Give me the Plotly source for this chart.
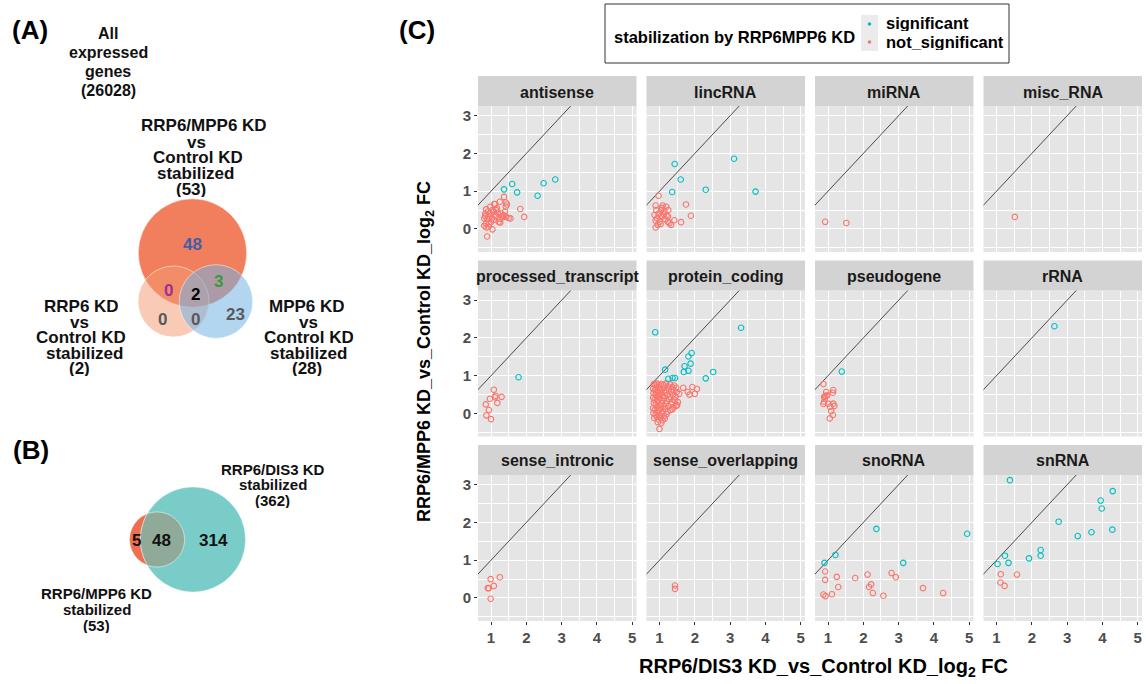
import numpy as np
import plotly.graph_objects as go

W, H = 1146, 684
FONT = "Liberation Sans, Arial, sans-serif"

# ---------------- data ----------------
facet_names = ["antisense", "lincRNA", "miRNA", "misc_RNA",
               "processed_transcript", "protein_coding", "pseudogene", "rRNA",
               "sense_intronic", "sense_overlapping", "snoRNA", "snRNA"]
x_ticks = [1, 2, 3, 4, 5]
y_ticks = [0, 1, 2, 3]
legend_title = "stabilization by RRP6MPP6 KD"
legend_labels = ["significant", "not_significant"]

antisense_sig_x = [1.37, 1.60, 1.74, 2.32, 2.49, 2.82]
antisense_sig_y = [1.05, 1.19, 0.97, 0.88, 1.21, 1.31]
antisense_ns_x = [0.86, 0.98, 1.09, 1.12, 1.25, 1.37, 1.42, 1.45, 1.42, 1.83, 1.94, 1.55, 1.43, 1.36, 1.31, 1.25,
                  1.22, 1.26, 1.08, 1.03, 0.93, 0.84, 0.81, 0.89, 0.86, 0.81, 0.87, 0.93, 1.04, 0.89, 0.98, 1.08,
                  1.15, 1.19, 1.29, 1.13, 1.00, 0.94, 1.17, 1.04, 0.84, 0.91, 1.10, 1.40, 1.34, 1.50]
antisense_ns_y = [0.52, 0.59, 0.66, 0.66, 0.72, 0.85, 0.70, 0.65, 0.59, 0.53, 0.32, 0.28, 0.32, 0.36, 0.33, 0.27,
                  0.19, 0.17, 0.24, 0.28, 0.33, 0.34, 0.28, 0.26, 0.15, 0.08, 0.04, 0.06, -0.01, -0.20, 0.41, 0.46,
                  0.50, 0.43, 0.41, 0.33, 0.19, 0.13, 0.55, 0.50, 0.41, 0.46, 0.37, 0.46, 0.31, 0.29]

lincRNA_sig_x = [1.43, 3.11, 1.60, 1.36, 2.31, 3.72]
lincRNA_sig_y = [1.72, 1.86, 1.31, 0.98, 1.04, 0.99]
lincRNA_ns_x = [0.97, 1.75, 1.89, 1.61, 1.42, 0.89, 1.09, 1.19, 1.05, 0.91, 1.14, 0.97, 1.24, 1.09, 0.93,
                0.89, 1.00, 1.16, 1.28, 1.33, 0.95, 0.89, 1.03, 1.24, 1.12, 1.20, 1.04, 0.86, 1.07, 1.25]
lincRNA_ns_y = [0.88, 0.65, 0.35, 0.18, 0.23, 0.62, 0.62, 0.59, 0.50, 0.50, 0.46, 0.41, 0.33, 0.33, 0.28,
                0.22, 0.19, 0.26, 0.15, 0.11, 0.11, 0.04, 0.13, 0.19, 0.39, 0.35, 0.34, 0.37, 0.56, 0.50]

miRNA_sig_x = []
miRNA_sig_y = []
miRNA_ns_x = [0.92, 1.52]
miRNA_ns_y = [0.19, 0.16]

misc_RNA_sig_x = []
misc_RNA_sig_y = []
misc_RNA_ns_x = [1.52]
misc_RNA_ns_y = [0.32]

processed_transcript_sig_x = [1.78]
processed_transcript_sig_y = [0.96]
processed_transcript_ns_x = [1.08, 0.97, 1.13, 1.11, 1.30, 1.18, 0.85, 0.94, 0.87, 1.00]
processed_transcript_ns_y = [0.63, 0.39, 0.47, 0.43, 0.44, 0.28, 0.24, 0.09, -0.05, -0.15]

protein_coding_sig_x = [0.88, 3.31, 1.91, 1.82, 1.88, 1.71, 1.69, 1.82, 1.16, 1.37, 1.44, 1.25, 2.31, 2.52]
protein_coding_sig_y = [2.15, 2.27, 1.60, 1.51, 1.32, 1.25, 1.10, 1.13, 1.16, 0.94, 0.94, 0.92, 0.93, 1.10]
protein_coding_ns_x = [1.00, 1.67, 1.93, 2.06, 1.80, 1.85, 2.00, 1.56, 1.36, 1.47,
                       0.84, 0.88, 0.93, 0.98, 1.05, 1.12, 1.18, 1.24, 1.30, 1.36, 1.42, 1.47,
                       0.82, 0.87, 0.91, 0.96, 1.01, 1.07, 1.13, 1.19, 1.26, 1.33, 1.40, 1.49,
                       0.83, 0.89, 0.94, 0.99, 1.04, 1.10, 1.16, 1.22, 1.29, 1.38, 1.45,
                       0.82, 0.86, 0.92, 0.97, 1.02, 1.08, 1.14, 1.20, 1.27, 1.35, 1.43, 1.52,
                       0.84, 0.90, 0.95, 1.00, 1.06, 1.12, 1.18, 1.25, 1.33, 1.40, 1.50,
                       0.82, 0.87, 0.93, 0.98, 1.04, 1.10, 1.16, 1.23, 1.31,
                       0.83, 0.89, 0.94, 1.00, 1.06, 1.13, 1.20,
                       0.85, 0.92, 0.97, 1.03, 1.09, 1.15, 0.95, 1.05]
protein_coding_ns_y = [-0.41, 0.68, 0.70, 0.65, 0.57, 0.50, 0.52, 0.52, 0.11, 0.20,
                       0.78, 0.74, 0.79, 0.76, 0.78, 0.75, 0.79, 0.72, 0.77, 0.70, 0.74, 0.68,
                       0.66, 0.62, 0.68, 0.60, 0.66, 0.63, 0.68, 0.61, 0.64, 0.58, 0.62, 0.57,
                       0.54, 0.50, 0.56, 0.48, 0.53, 0.47, 0.55, 0.49, 0.45, 0.50, 0.44,
                       0.42, 0.37, 0.44, 0.35, 0.40, 0.34, 0.41, 0.33, 0.38, 0.30, 0.36, 0.30,
                       0.28, 0.24, 0.30, 0.22, 0.27, 0.21, 0.26, 0.19, 0.24, 0.16, 0.22,
                       0.14, 0.10, 0.16, 0.08, 0.13, 0.06, 0.12, 0.05, 0.09,
                       0.01, -0.03, 0.03, -0.05, 0.00, -0.07, -0.02,
                       -0.12, -0.09, -0.16, -0.11, -0.18, -0.13, -0.23, -0.26]

pseudogene_sig_x = [1.39]
pseudogene_sig_y = [1.11]
pseudogene_ns_x = [0.87, 0.95, 1.15, 1.14, 0.89, 0.93, 0.98, 0.89, 0.87, 1.01, 1.15, 1.18, 1.06, 1.09, 1.14, 1.05, 0.91]
pseudogene_ns_y = [0.78, 0.57, 0.62, 0.55, 0.44, 0.47, 0.48, 0.31, 0.25, 0.26, 0.26, 0.20, 0.18, 0.06, -0.04, -0.13, 0.40]

rRNA_sig_x = [2.64]
rRNA_sig_y = [2.31]
rRNA_ns_x = []
rRNA_ns_y = []

sense_intronic_sig_x = []
sense_intronic_sig_y = []
sense_intronic_ns_x = [0.99, 1.25, 1.08, 0.91, 0.94, 0.99]
sense_intronic_ns_y = [0.50, 0.55, 0.32, 0.26, 0.26, -0.02]

sense_overlapping_sig_x = []
sense_overlapping_sig_y = []
sense_overlapping_ns_x = [1.44, 1.44]
sense_overlapping_ns_y = [0.33, 0.24]

snoRNA_sig_x = [0.90, 1.21, 2.37, 3.13, 4.94]
snoRNA_sig_y = [0.93, 1.14, 1.83, 0.93, 1.70]
snoRNA_ns_x = [0.92, 0.92, 1.25, 1.29, 0.87, 0.93, 1.11, 1.77, 2.12, 2.22, 2.16, 2.27, 2.57, 2.80, 2.92, 3.69, 4.26]
snoRNA_ns_y = [0.70, 0.48, 0.56, 0.29, 0.09, 0.05, 0.10, 0.53, 0.62, 0.36, 0.29, 0.13, 0.06, 0.66, 0.55, 0.26, 0.13]

snRNA_sig_x = [1.38, 4.29, 3.95, 3.98, 2.76, 3.69, 3.30, 4.28, 2.25, 2.25, 1.92, 1.24, 1.34, 1.03]
snRNA_sig_y = [3.12, 2.83, 2.58, 2.37, 2.02, 1.74, 1.64, 1.81, 1.27, 1.12, 1.05, 1.12, 0.93, 0.90]
snRNA_ns_x = [1.12, 1.58, 1.11, 1.23]
snRNA_ns_y = [0.63, 0.62, 0.41, 0.32]

facet_data = {
    "antisense": (antisense_sig_x, antisense_sig_y, antisense_ns_x, antisense_ns_y),
    "lincRNA": (lincRNA_sig_x, lincRNA_sig_y, lincRNA_ns_x, lincRNA_ns_y),
    "miRNA": (miRNA_sig_x, miRNA_sig_y, miRNA_ns_x, miRNA_ns_y),
    "misc_RNA": (misc_RNA_sig_x, misc_RNA_sig_y, misc_RNA_ns_x, misc_RNA_ns_y),
    "processed_transcript": (processed_transcript_sig_x, processed_transcript_sig_y,
                             processed_transcript_ns_x, processed_transcript_ns_y),
    "protein_coding": (protein_coding_sig_x, protein_coding_sig_y, protein_coding_ns_x, protein_coding_ns_y),
    "pseudogene": (pseudogene_sig_x, pseudogene_sig_y, pseudogene_ns_x, pseudogene_ns_y),
    "rRNA": (rRNA_sig_x, rRNA_sig_y, rRNA_ns_x, rRNA_ns_y),
    "sense_intronic": (sense_intronic_sig_x, sense_intronic_sig_y, sense_intronic_ns_x, sense_intronic_ns_y),
    "sense_overlapping": (sense_overlapping_sig_x, sense_overlapping_sig_y,
                          sense_overlapping_ns_x, sense_overlapping_ns_y),
    "snoRNA": (snoRNA_sig_x, snoRNA_sig_y, snoRNA_ns_x, snoRNA_ns_y),
    "snRNA": (snRNA_sig_x, snRNA_sig_y, snRNA_ns_x, snRNA_ns_y),
}

# Venn counts
venn_a_all = 26028
venn_a_totals = [53, 2, 28]              # RRP6/MPP6, RRP6, MPP6
venn_a_regions = [48, 0, 2, 3, 0, 0, 23]  # only A, A&B, A&B&C, A&C, B only, B&C, C only
venn_b_totals = [53, 362]                # RRP6/MPP6, RRP6/DIS3
venn_b_regions = [5, 48, 314]

# ---------------- helpers ----------------
def PX(x):
    return x / W


def PY(y):
    return 1 - y / H


SIG_COL = "#00BFC4"
NS_COL = "#F8766D"

fig = go.Figure()
shapes = []
annots = []


def txt(x, y, s, size, color="#1A1A1A", bold=True, xanchor="center", angle=0, h=None):
    a = dict(x=PX(x), y=PY(y), xref="paper", yref="paper", text=("<b>%s</b>" % s) if bold else s,
             showarrow=False, xanchor=xanchor, yanchor="middle", textangle=angle,
             font=dict(family=FONT, size=size, color=color), borderpad=0)
    if h is not None:
        a["height"] = h
    annots.append(a)


def circ(cx, cy, r, fill, line="rgba(255,255,255,0.5)", lw=1):
    shapes.append(dict(type="circle", xref="paper", yref="paper",
                       x0=PX(cx - r), x1=PX(cx + r), y0=PY(cy + r), y1=PY(cy - r),
                       fillcolor=fill, line=dict(color=line, width=lw), layer="above"))


# ---------------- facets ----------------
col_left = [478, 646.5, 815, 983.5]
panel_w = 158.5
strip_top = [76, 260.5, 445]
strip_h = 30
panel_h = 146
XR = [0.632, 5.12]
YR = [-0.61, 3.257]

layout_axes = {}
for i, name in enumerate(facet_names):
    r, c = divmod(i, 4)
    n = i + 1
    xs = "x" if n == 1 else "x%d" % n
    ys = "y" if n == 1 else "y%d" % n
    x0 = col_left[c]
    x1 = x0 + panel_w
    pt = strip_top[r] + strip_h
    pb = pt + panel_h
    sx, sy, nx, ny = facet_data[name]
    fig.add_trace(go.Scatter(x=[0, 6], y=[0, 6], mode="lines", xaxis=xs, yaxis=ys,
                             line=dict(color="#3a3a3a", width=0.9), hoverinfo="skip", showlegend=False))
    fig.add_trace(go.Scatter(x=nx, y=ny, mode="markers", xaxis=xs, yaxis=ys, name=legend_labels[1],
                             marker=dict(symbol="circle-open", size=5.5, color=NS_COL, line=dict(width=1.1)),
                             showlegend=False))
    fig.add_trace(go.Scatter(x=sx, y=sy, mode="markers", xaxis=xs, yaxis=ys, name=legend_labels[0],
                             marker=dict(symbol="circle-open", size=5.5, color=SIG_COL, line=dict(width=1.1)),
                             showlegend=False))
    showx = (r == 2)
    showy = (c == 0)
    layout_axes["xaxis" if n == 1 else "xaxis%d" % n] = dict(
        domain=[PX(x0), PX(x1)], range=XR, anchor=ys, tickvals=x_ticks,
        showticklabels=showx, ticks="outside" if showx else "", ticklen=3, tickwidth=1, tickcolor="#333333",
        tickfont=dict(family=FONT, size=15, color="#4D4D4D", weight="bold"),
        showgrid=True, gridcolor="white", gridwidth=1.2, zeroline=False, showline=False,
        minor=dict(dtick=0.5, tick0=0, showgrid=True, gridcolor="white", gridwidth=0.6))
    layout_axes["yaxis" if n == 1 else "yaxis%d" % n] = dict(
        domain=[PY(pb), PY(pt)], range=YR, anchor=xs, tickvals=y_ticks,
        showticklabels=showy, ticks="outside" if showy else "", ticklen=3, tickwidth=1, tickcolor="#333333",
        tickfont=dict(family=FONT, size=15, color="#4D4D4D", weight="bold"),
        showgrid=True, gridcolor="white", gridwidth=1.2, zeroline=False, showline=False,
        minor=dict(dtick=0.5, tick0=0, showgrid=True, gridcolor="white", gridwidth=0.6))
    # strip
    shapes.append(dict(type="rect", xref="paper", yref="paper", x0=PX(x0), x1=PX(x1),
                       y0=PY(strip_top[r] + strip_h), y1=PY(strip_top[r]),
                       fillcolor="#D3D3D3", line=dict(width=0), layer="below"))
    txt((x0 + x1) / 2, strip_top[r] + strip_h / 2 + 1, name, 16, "#1A1A1A")

# axis titles
txt(425, 352, "RRP6/MPP6 KD_vs_Control KD_log<sub>2</sub> FC", 18, "#000000", angle=-90)
txt(823, 667, "RRP6/DIS3 KD_vs_Control KD_log<sub>2</sub> FC", 20, "#000000")

# legend box
shapes.append(dict(type="rect", xref="paper", yref="paper", x0=PX(605), x1=PX(1009), y0=PY(63), y1=PY(4),
                   fillcolor="white", line=dict(color="#333333", width=1)))
txt(613, 37, legend_title, 16.5, "#000000", xanchor="left")
for k, (lab, col) in enumerate(zip(legend_labels, [SIG_COL, NS_COL])):
    cy = 24 + 18 * k
    shapes.append(dict(type="rect", xref="paper", yref="paper", x0=PX(861), x1=PX(878),
                       y0=PY(cy + 9), y1=PY(cy - 9), fillcolor="#EBEBEB", line=dict(width=0)))
    circ(869.5, cy, 1.8, col, line=col, lw=0)
    txt(885, cy - 1, lab, 16.5, "#000000", xanchor="left", h=17)

# panel labels
txt(30, 30, "(A)", 26, "#000000")
txt(31, 450, "(B)", 26, "#000000")
txt(417, 30, "(C)", 26, "#000000")

# ---------------- Venn A ----------------
circ(192.5, 253, 54.2, "#F17E5C")
circ(173.5, 301.5, 35.5, "rgba(244,155,115,0.53)")
circ(216, 301.5, 36.8, "rgba(115,179,228,0.55)")

for j, line in enumerate(["All", "expressed", "genes", "(%d)" % venn_a_all]):
    txt(108, 33 + 19 * j, line, 16, "#111111", h=18)
a_lines = [("RRP6/MPP6 KD", 204, 125.7), ("vs", 196, 142), ("Control KD", 198, 157.5),
           ("stabilized", 195, 173), ("(%d)" % venn_a_totals[0], 191.5, 189)]
for s, x, y in a_lines:
    txt(x, y, s, 17, "#111111", h=15)
b_lines = [("RRP6 KD", 81.3, 306), ("vs", 79, 322.5), ("Control KD", 81.3, 337.7),
           ("stabilized", 84, 353.3), ("(%d)" % venn_a_totals[1], 79, 368.5)]
for s, x, y in b_lines:
    txt(x, y, s, 17, "#111111", h=15)
c_lines = [("MPP6 KD", 307, 306), ("vs", 308, 322.5), ("Control KD", 309, 337.7),
           ("stabilized", 308.5, 353.3), ("(%d)" % venn_a_totals[2], 307, 368.5)]
for s, x, y in c_lines:
    txt(x, y, s, 17, "#111111", h=15)

a_pos = [(192.5, 243.5), (168.5, 290), (195, 294), (218.5, 281), (162.5, 318.5), (195, 319), (235, 314)]
a_cols = ["#3F5FAA", "#9B2F9B", "#000000", "#3A9A3A", "#595959", "#595959", "#595959"]
for val, (x, y), col in zip(venn_a_regions, a_pos, a_cols):
    txt(x, y, str(val), 17, col, h=16)

# ---------------- Venn B ----------------
rc, rr = (157, 539.5), 27.5
tc, tr = (193, 539.5), 52.5
circ(rc[0], rc[1], rr, "#EF7050", line="rgba(255,255,255,0.4)")
circ(tc[0], tc[1], tr, "#7ACCC8", line="rgba(255,255,255,0.4)")
t = np.linspace(0, 2 * np.pi, 241)
px_ = rc[0] + rr * np.cos(t)
py_ = rc[1] + rr * np.sin(t)
d = np.hypot(px_ - tc[0], py_ - tc[1])
f = np.where(d > tr, tr / d, 1.0)
px_ = tc[0] + (px_ - tc[0]) * f
py_ = tc[1] + (py_ - tc[1]) * f
path = "M " + " L ".join("%.5f,%.5f" % (PX(a), PY(b)) for a, b in zip(px_, py_)) + " Z"
shapes.append(dict(type="path", xref="paper", yref="paper", path=path, fillcolor="#8FAA98",
                   line=dict(color="rgba(255,255,255,0.55)", width=1), layer="above"))

b_pos = [(136.5, 540), (161.5, 540), (213.5, 540)]
for val, (x, y) in zip(venn_b_regions, b_pos):
    txt(x, y, str(val), 17, "#111111", h=16)
for j, s in enumerate(["RRP6/DIS3 KD", "stabilized", "(%d)" % venn_b_totals[1]]):
    txt(272.5, 469.5 + 15.5 * j, s, 15, "#111111", h=15)
for j, s in enumerate(["RRP6/MPP6 KD", "stabilized", "(%d)" % venn_b_totals[0]]):
    txt(96.5, 593.5 + 16 * j, s, 15, "#111111", h=15)

fig.update_layout(
    width=W, height=H, margin=dict(l=0, r=0, t=0, b=0), autosize=False,
    paper_bgcolor="white", plot_bgcolor="#E5E5E5", showlegend=False,
    shapes=shapes, annotations=annots, font=dict(family=FONT),
    **layout_axes)

fig.write_html("out.html", config={"displayModeBar": False},
               post_script="document.body.style.margin='0px';document.body.style.overflow='hidden';")
